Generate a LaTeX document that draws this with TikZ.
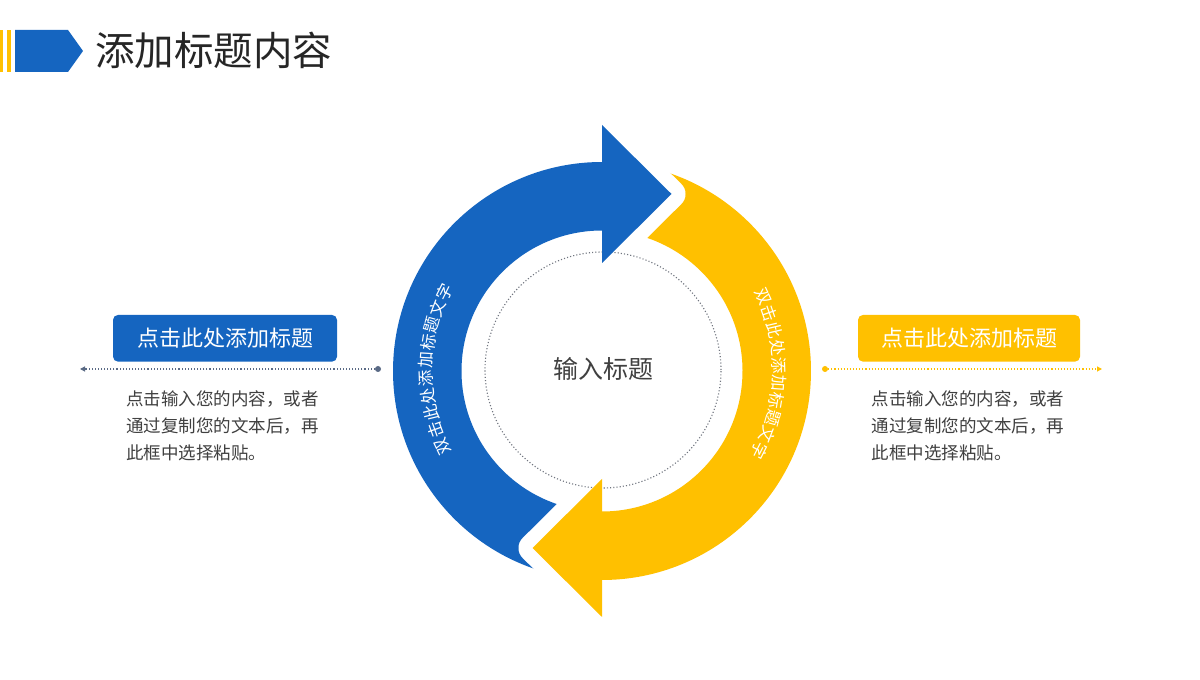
\documentclass[tikz,border=0pt]{standalone}
\usepackage{fontspec}
\setmainfont{Noto Sans CJK SC}
\usetikzlibrary{arrows.meta}
\definecolor{mainblue}{HTML}{1565C0}
\definecolor{mainyellow}{HTML}{FFC000}
\definecolor{titlegray}{HTML}{262626}
\definecolor{bodygray}{HTML}{404040}
\definecolor{lineslate}{HTML}{5A6A85}
\definecolor{dotgray}{HTML}{70757F}
\begin{document}
\begin{tikzpicture}[x=1pt,y=1pt,
  lbl/.style={rounded corners=5pt, minimum width=224pt, minimum height=46.7pt,
    text=white, font=\fontsize{22}{24}\selectfont, inner sep=0pt},
  body/.style={align=left, font=\fontsize{17.5}{27}\selectfont, text=bodygray, inner sep=0pt, anchor=north west},
  ringtxt/.style={text=white, font=\fontsize{16.5}{17}\selectfont, inner sep=0pt},
  gapline/.style={white, line width=28pt, line join=round},
  dotline/.style={line width=1.1pt, dash pattern=on 1.1pt off 2pt},
  enddot/.style={circle, inner sep=0pt, minimum size=6pt},
  tipend/.style={-{Triangle[length=5pt,width=5pt]}}
]
\useasboundingbox (0,0) rectangle (1200,680);
\fill[white] (0,0) rectangle (1200,680);

% header
\fill[mainyellow] (0,608) rectangle (3,650);
\fill[mainyellow] (7,608) rectangle (11,650);
\fill[mainblue] (15,608) -- (15,650) -- (68,650) -- (83,629) -- (68,608) -- cycle;
\node[anchor=west, font=\fontsize{39.5}{42}\selectfont, text=titlegray, inner sep=0pt] (title) at (95,630) {添加标题内容};

% ring bodies
\begin{scope}[shift={(602,309)}]
  \fill[mainblue] (89.5:209) arc[start angle=89.5, end angle=269, radius=209]
     -- (269:140.5) arc[start angle=269, end angle=89.5, radius=140.5] -- cycle;
  \fill[mainyellow] (-90.5:209) arc[start angle=-90.5, end angle=89, radius=209]
     -- (89:140.5) arc[start angle=89, end angle=-90.5, radius=140.5] -- cycle;
  \draw[gapline] (0,246) -- (69.5,177) -- (0,108);
  \draw[gapline] (0,-246) -- (-69.5,-177) -- (0,-108);
\end{scope}

% dotted inner circle
\draw[dotgray, line width=1.1pt, dash pattern=on 1.1pt off 2.1pt] (603,310) circle[radius=118];

% arrow heads and ring text
\begin{scope}[shift={(602,309)}]
  \fill[mainblue] (0,246) -- (69.5,177) -- (0,108) -- cycle;
  \fill[mainyellow] (0,-246) -- (-69.5,-177) -- (0,-108) -- cycle;
  \foreach \ch [count=\k from 0] in {双,击,此,处,添,加,标,题,文,字} {
    \pgfmathsetmacro\ang{205.5-5.8*\k}
    \node[ringtxt, rotate=\ang-90] (bt\k) at (\ang:176) {\ch};
  }
  \foreach \ch [count=\k from 0] in {双,击,此,处,添,加,标,题,文,字} {
    \pgfmathsetmacro\ang{24.7-5.73*\k}
    \node[ringtxt, rotate=\ang-90] (yt\k) at (\ang:177) {\ch};
  }
\end{scope}

\node[font=\fontsize{25}{27}\selectfont, text=bodygray] (ctitle) at (603,311) {输入标题};

% left side
\node[lbl, fill=mainblue] (lbox) at (225,341.7) {点击此处添加标题};
\node[enddot, fill=lineslate] (ldot) at (378,311) {};
\coordinate (lend) at (80,311);
\draw[lineslate, dotline, tipend] (ldot) -- (lend);
\node[body] (ltext) at (126,290) {点击输入您的内容，或者\\通过复制您的文本后，再\\此框中选择粘贴。};

% right side
\node[lbl, minimum width=222pt, fill=mainyellow] (rbox) at (969,341.7) {点击此处添加标题};
\node[enddot, fill=mainyellow] (rdot) at (825,311) {};
\coordinate (rend) at (1102,311);
\draw[mainyellow, dotline, tipend] (rdot) -- (rend);
\node[body] (rtext) at (871.5,290) {点击输入您的内容，或者\\通过复制您的文本后，再\\此框中选择粘贴。};
\end{tikzpicture}
\end{document}
